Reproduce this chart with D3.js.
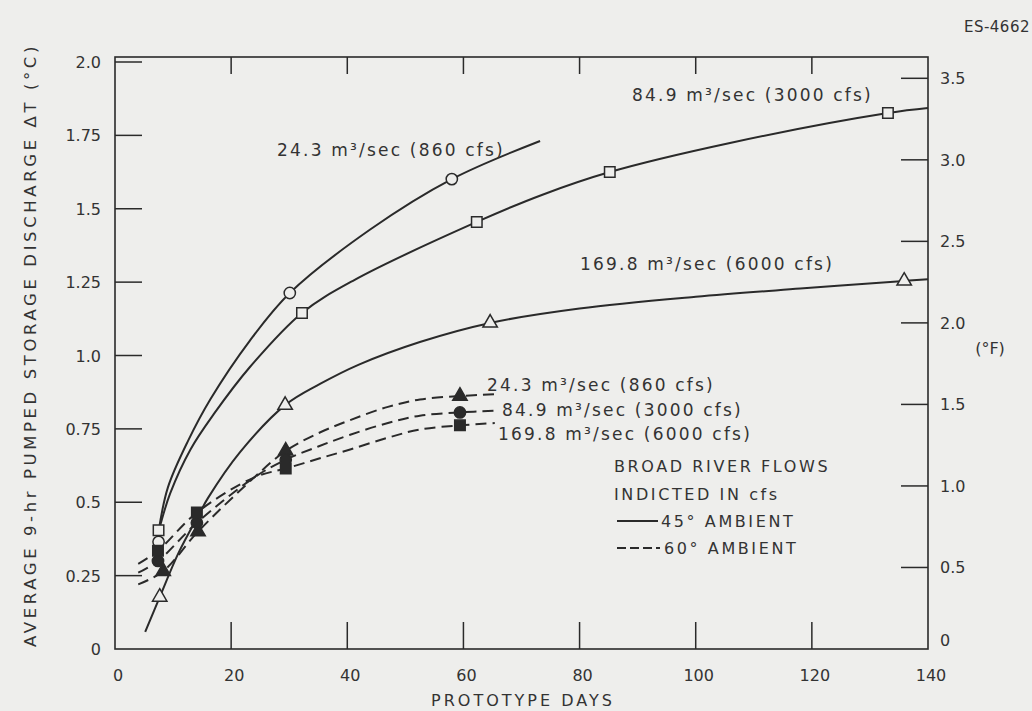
<!DOCTYPE html>
<html>
<head>
<meta charset="utf-8">
<script src="https://cdn.jsdelivr.net/npm/d3@7"></script>
<style>
  body { margin: 0; background: #eeeeec; }
  svg { display: block; }
  text { font-family: "DejaVu Sans", sans-serif; fill: #333; }
</style>
</head>
<body>
<svg id="chart" width="1032" height="711"></svg>
<script>
// --- axis ticks ---
const xTicks = [0, 20, 40, 60, 80, 100, 120, 140];
const xTickLabels = ["0", "20", "40", "60", "80", "100", "120", "140"];
const cTicks = [0, 0.25, 0.5, 0.75, 1.0, 1.25, 1.5, 1.75, 2.0];
const cTickLabels = ["0", "0.25", "0.5", "0.75", "1.0", "1.25", "1.5", "1.75", "2.0"];
const fTicks = [0, 0.5, 1.0, 1.5, 2.0, 2.5, 3.0, 3.5];
const fTickLabels = ["0", "0.5", "1.0", "1.5", "2.0", "2.5", "3.0", "3.5"];

// --- 45° ambient (solid lines, open markers) : [days, dT °C] ---
const curve45_860 = [[7.5,0.40],[9.1,0.55],[12.6,0.71],[16.4,0.85],[23.2,1.05],[30.1,1.213],[44,1.43],[58,1.601],[73.2,1.731]];
const pts45_860 = [[7.5,0.365],[30.1,1.213],[58,1.601]];
const curve45_3000 = [[7.5,0.40],[9.5,0.53],[13,0.68],[17,0.80],[23.2,0.96],[32.2,1.145],[41.2,1.257],[62.3,1.455],[73.5,1.547],[85.2,1.625],[105.9,1.724],[133.1,1.826],[140,1.843]];
const pts45_3000 = [[7.5,0.405],[32.2,1.145],[62.3,1.455],[85.2,1.625],[133.1,1.826]];
const curve45_6000 = [[5.2,0.058],[7.7,0.177],[11,0.33],[14.5,0.46],[16,0.514],[21.5,0.67],[29.3,0.831],[35.3,0.903],[42,0.969],[52.5,1.046],[64.6,1.111],[80,1.16],[100,1.2],[118,1.228],[135.9,1.254],[140,1.26]];
const pts45_6000 = [[7.7,0.177],[29.3,0.831],[64.6,1.111],[135.9,1.254]];

// --- 60° ambient (dashed lines, filled markers) ---
const curve60_860 = [[4,0.22],[8.3,0.265],[14.3,0.40],[24,0.585],[29.4,0.675],[35,0.735],[40.5,0.78],[47,0.825],[52.5,0.85],[59.4,0.862],[65.4,0.868]];
const pts60_860 = [[8.3,0.265],[14.3,0.40],[29.4,0.675],[59.4,0.862]];
const curve60_3000 = [[4,0.26],[7.4,0.30],[14.1,0.43],[24,0.585],[29.4,0.645],[35,0.69],[40.5,0.73],[47,0.77],[52.5,0.795],[59.4,0.806],[65.4,0.812]];
const pts60_3000 = [[7.4,0.30],[14.1,0.43],[29.4,0.645],[59.4,0.806]];
const curve60_6000 = [[4,0.29],[7.4,0.335],[14.1,0.465],[24,0.585],[29.4,0.615],[35,0.648],[40.5,0.68],[47,0.72],[52.5,0.748],[59.4,0.762],[65.4,0.77]];
const pts60_6000 = [[7.4,0.335],[14.1,0.465],[29.4,0.615],[59.4,0.762]];

const svg = d3.select("#chart");
const ink = "#2a2a2a";

// frame
const L = 115, R = 928, T = 57, B = 649;
const x = d3.scaleLinear().domain([0, 140]).range([L, R]);
const y = d3.scaleLinear().domain([0, 2.0]).range([B, 62]);
const yF = v => y(v / 1.8);

svg.append("rect")
  .attr("x", L).attr("y", T).attr("width", R - L).attr("height", B - T)
  .attr("fill", "none").attr("stroke", ink).attr("stroke-width", 1.6);

// inward ticks
const tickLen = 27;
svg.append("g").selectAll("line").data(cTicks.filter(d => d > 0)).join("line")
  .attr("x1", L).attr("x2", L + tickLen)
  .attr("y1", d => y(d)).attr("y2", d => y(d))
  .attr("stroke", ink).attr("stroke-width", 1.5);
svg.append("g").selectAll("line").data(fTicks.filter(d => d > 0)).join("line")
  .attr("x1", R).attr("x2", R - tickLen)
  .attr("y1", d => yF(d)).attr("y2", d => yF(d))
  .attr("stroke", ink).attr("stroke-width", 1.5);
svg.append("g").selectAll("line").data(xTicks.filter(d => d > 0 && d < 140)).join("line")
  .attr("x1", d => x(d)).attr("x2", d => x(d))
  .attr("y1", B).attr("y2", B - tickLen)
  .attr("stroke", ink).attr("stroke-width", 1.5);
svg.append("g").selectAll("line").data(xTicks.filter(d => d > 0 && d < 140)).join("line")
  .attr("x1", d => x(d)).attr("x2", d => x(d))
  .attr("y1", T).attr("y2", T + 17)
  .attr("stroke", ink).attr("stroke-width", 1.5);

// tick labels
svg.append("g").selectAll("text").data(cTicks).join("text")
  .attr("x", 101).attr("y", d => y(d) + 6)
  .attr("text-anchor", "end").style("font-size", "16px")
  .text((d, i) => cTickLabels[i]);
svg.append("g").selectAll("text").data(fTicks).join("text")
  .attr("x", 940).attr("y", d => yF(d) + (d === 0 ? -3 : 6))
  .style("font-size", "16px")
  .text((d, i) => fTickLabels[i]);
svg.append("g").selectAll("text").data(xTicks).join("text")
  .attr("x", d => x(d) + 3).attr("y", 681)
  .attr("text-anchor", "middle").style("font-size", "16px")
  .text((d, i) => xTickLabels[i]);

// axis titles
svg.append("text")
  .attr("transform", "translate(36,345) rotate(-90)")
  .attr("text-anchor", "middle")
  .style("font-size", "16.5px").style("letter-spacing", "3.6px")
  .text("AVERAGE 9-hr PUMPED STORAGE DISCHARGE ΔT (°C)");
svg.append("text")
  .attr("x", 523).attr("y", 706).attr("text-anchor", "middle")
  .style("font-size", "16px").style("letter-spacing", "3px")
  .text("PROTOTYPE DAYS");
svg.append("text")
  .attr("x", 990).attr("y", 354).attr("text-anchor", "middle")
  .style("font-size", "16px").text("(°F)");
svg.append("text")
  .attr("x", 1030).attr("y", 32).attr("text-anchor", "end")
  .style("font-size", "15px").style("letter-spacing", "0.5px").text("ES-4662");

// curves
const line = d3.line().x(d => x(d[0])).y(d => y(d[1])).curve(d3.curveCatmullRom.alpha(0.5));
const series = [
  { curve: curve45_860, pts: pts45_860, dash: null, sym: d3.symbolCircle, fill: false },
  { curve: curve45_3000, pts: pts45_3000, dash: null, sym: d3.symbolSquare, fill: false },
  { curve: curve45_6000, pts: pts45_6000, dash: null, sym: d3.symbolTriangle, fill: false },
  { curve: curve60_860, pts: pts60_860, dash: "11,6", sym: d3.symbolTriangle, fill: true },
  { curve: curve60_3000, pts: pts60_3000, dash: "11,6", sym: d3.symbolCircle, fill: true },
  { curve: curve60_6000, pts: pts60_6000, dash: "11,6", sym: d3.symbolSquare, fill: true }
];
series.forEach(s => {
  svg.append("path")
    .attr("d", line(s.curve))
    .attr("fill", "none").attr("stroke", ink).attr("stroke-width", 2)
    .attr("stroke-dasharray", s.dash);
});
series.forEach(s => {
  const size = s.sym === d3.symbolTriangle ? 90 : (s.sym === d3.symbolSquare ? 110 : 100);
  svg.append("g").selectAll("path").data(s.pts).join("path")
    .attr("transform", d => `translate(${x(d[0])},${y(d[1])})`)
    .attr("d", d3.symbol().type(s.sym).size(size))
    .attr("fill", s.fill ? ink : "#eeeeec")
    .attr("stroke", ink).attr("stroke-width", 1.5);
});

// curve labels
const lbl = (tx, ty, str) => svg.append("text")
  .attr("x", tx).attr("y", ty)
  .style("font-size", "17px").style("letter-spacing", "2.2px")
  .text(str);
lbl(277, 156, "24.3 m³/sec (860 cfs)");
lbl(632, 101, "84.9 m³/sec (3000 cfs)");
lbl(580, 270, "169.8 m³/sec (6000 cfs)");
lbl(487, 391, "24.3 m³/sec (860 cfs)");
lbl(502, 416, "84.9 m³/sec (3000 cfs)");
lbl(498, 440, "169.8 m³/sec (6000 cfs)");

// legend
const leg = svg.append("g");
const legText = (tx, ty, str) => leg.append("text")
  .attr("x", tx).attr("y", ty)
  .style("font-size", "16px").style("letter-spacing", "2.6px")
  .text(str);
legText(614, 472, "BROAD RIVER FLOWS");
legText(614, 500, "INDICTED IN cfs");
leg.append("line").attr("x1", 617).attr("x2", 658).attr("y1", 521).attr("y2", 521)
  .attr("stroke", ink).attr("stroke-width", 2);
legText(661, 527, "45° AMBIENT");
leg.append("line").attr("x1", 617).attr("x2", 660).attr("y1", 548).attr("y2", 548)
  .attr("stroke", ink).attr("stroke-width", 2).attr("stroke-dasharray", "9,4");
legText(664, 554, "60° AMBIENT");
</script>
</body>
</html>
